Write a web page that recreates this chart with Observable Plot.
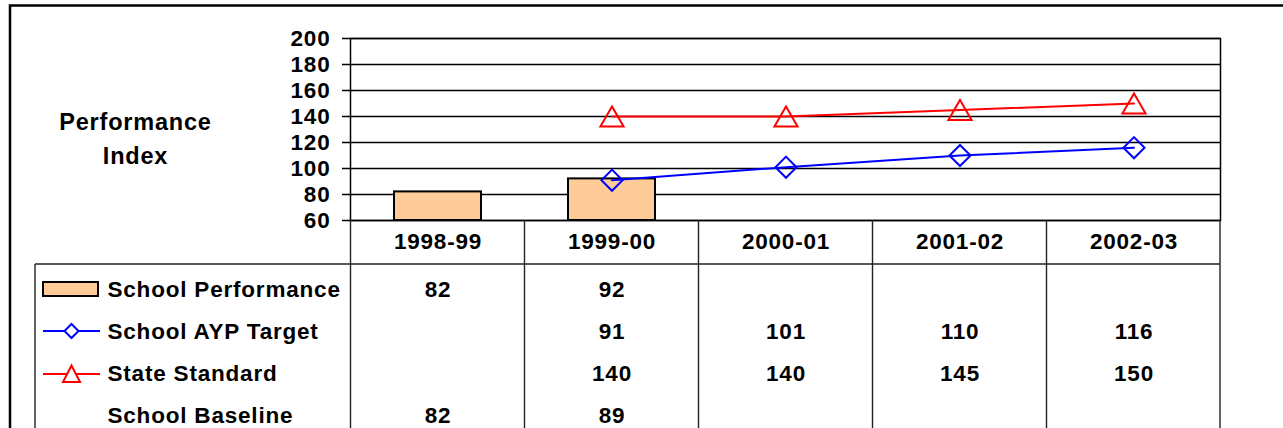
<!DOCTYPE html>
<html>
<head>
<meta charset="utf-8">
<script src="https://cdn.jsdelivr.net/npm/d3@7"></script>
<script src="https://cdn.jsdelivr.net/npm/@observablehq/plot@0.6"></script>
<style>
  html, body { margin: 0; padding: 0; background: #fff; }
  #chart svg { display: block; }
</style>
</head>
<body>
<div id="chart"></div>
<script>
// ---- data ----
const years = ["1998-99", "1999-00", "2000-01", "2001-02", "2002-03"];
const schoolPerformance = [82, 92, null, null, null];
const aypTarget = [null, 91, 101, 110, 116];
const stateStandard = [null, 140, 140, 145, 150];
const schoolBaseline = [82, 89, null, null, null];
const seriesNames = ["School Performance", "School AYP Target", "State Standard", "School Baseline"];
const yTicks = [60, 80, 100, 120, 140, 160, 180, 200];
const yTitle = "Performance\nIndex";

// ---- layout ----
const W = 1283, H = 428;
const M = {top: 38, right: 63, bottom: 208, left: 350};
const rowDy = [69, 111, 153, 195];   // table rows below the plot frame
const headerDy = 21;
const FONT = "'Liberation Sans', Arial, sans-serif";

const rows = (arr) => years.map((year, i) => ({year, value: arr[i]})).filter(d => d.value != null);
const perf = rows(schoolPerformance);
const ayp = rows(aypTarget);
const state = rows(stateStandard);
const base = rows(schoolBaseline);
const tableSeries = [perf, ayp, state, base];

const BAR = "#FFCC99", BLUE = "#0000FF", RED = "#FF0000";

function tableAndFrame(index, scales, values, dims) {
  const x = scales.x;
  const step = x.step ? x.step() : (x(years[1]) - x(years[0]));
  const bw = x.bandwidth ? x.bandwidth() : step / 2;
  const right = dims.width - dims.marginRight;
  const bottom = dims.height - dims.marginBottom;
  const headerBottom = bottom + 44;
  const tableLeft = 35;
  const g = d3.create("svg:g");
  const bounds = years.map(y => x(y) + bw / 2 - step / 2).concat([right]);
  g.selectAll("line.v").data(bounds).join("line")
    .attr("x1", d => d).attr("x2", d => d)
    .attr("y1", bottom).attr("y2", dims.height)
    .attr("stroke", "#222").attr("stroke-width", 1.4);
  g.append("line").attr("x1", tableLeft).attr("x2", right)
    .attr("y1", headerBottom).attr("y2", headerBottom)
    .attr("stroke", "#222").attr("stroke-width", 1.4);
  g.append("line").attr("x1", tableLeft).attr("x2", tableLeft)
    .attr("y1", headerBottom).attr("y2", dims.height)
    .attr("stroke", "#222").attr("stroke-width", 1.4);
  // outer chart-area border (top + left)
  g.append("path").attr("d", `M10,${dims.height}V5.5H${dims.width}`)
    .attr("fill", "none").attr("stroke", "#000").attr("stroke-width", 2.5);
  // legend keys
  const cx = 71.5;
  const r1 = bottom + rowDy[0], r2 = bottom + rowDy[1], r3 = bottom + rowDy[2];
  g.append("rect").attr("x", 43).attr("y", r1 - 7).attr("width", 55).attr("height", 14)
    .attr("fill", BAR).attr("stroke", "#000").attr("stroke-width", 2);
  g.append("line").attr("x1", 43).attr("x2", 100).attr("y1", r2).attr("y2", r2)
    .attr("stroke", BLUE).attr("stroke-width", 2);
  g.append("path").attr("d", `M${cx},${r2 - 7}L${cx + 7},${r2}L${cx},${r2 + 7}L${cx - 7},${r2}Z`)
    .attr("fill", "#fff").attr("stroke", BLUE).attr("stroke-width", 2);
  g.append("line").attr("x1", 43).attr("x2", 100).attr("y1", r3 + 1).attr("y2", r3 + 1)
    .attr("stroke", RED).attr("stroke-width", 2);
  g.append("path").attr("d", `M${cx},${r3 - 7.5}L${cx + 8.5},${r3 + 9}L${cx - 8.5},${r3 + 9}Z`)
    .attr("fill", "#fff").attr("stroke", RED).attr("stroke-width", 2);
  return g.node();
}

const marks = [
  // gridlines with ticks extending left
  Plot.ruleY(yTicks, {y: d => d, stroke: "#000", strokeWidth: 1.5, insetLeft: -8}),
  Plot.frame({stroke: "#000", strokeWidth: 1.5}),
  Plot.barY(perf, {x: "year", y1: yTicks[0], y2: "value", fill: BAR, stroke: "#000", strokeWidth: 2}),
  Plot.line(ayp, {x: "year", y: "value", stroke: BLUE, strokeWidth: 2}),
  Plot.dot(ayp, {x: "year", y: "value", symbol: "diamond2", r: 9.5, stroke: BLUE, strokeWidth: 2, fill: "none"}),
  Plot.line(state, {x: "year", y: "value", stroke: RED, strokeWidth: 2}),
  Plot.dot(state, {x: "year", y: "value", symbol: "triangle", r: 8.6, dy: 3.3, stroke: RED, strokeWidth: 2, fill: "none"}),
  // y tick labels
  Plot.text(yTicks, {y: d => d, text: d => String(d), frameAnchor: "left", dx: -20, textAnchor: "end", lineAnchor: "middle"}),
  // y title
  Plot.text([yTitle], {text: d => d, frameAnchor: "top-left", dx: -215, dy: 98, fontSize: 23.5, lineHeight: 1.45, textAnchor: "middle", lineAnchor: "middle"}),
  // category header
  Plot.text(years, {x: d => d, text: d => d, frameAnchor: "bottom", dy: headerDy, lineAnchor: "middle"}),
  tableAndFrame
];
// table rows
tableSeries.forEach((data, k) => {
  marks.push(Plot.text(data, {x: "year", text: d => String(d.value), frameAnchor: "bottom", dy: rowDy[k], lineAnchor: "middle"}));
  marks.push(Plot.text([seriesNames[k]], {text: d => d, frameAnchor: "bottom-left", dx: -243, dy: rowDy[k], textAnchor: "start", lineAnchor: "middle"}));
});

const chart = Plot.plot({
  width: W,
  height: H,
  marginTop: M.top,
  marginRight: M.right,
  marginBottom: M.bottom,
  marginLeft: M.left,
  x: {type: "band", domain: years, paddingInner: 0.5, paddingOuter: 0.25, axis: null},
  y: {domain: [yTicks[0], yTicks[yTicks.length - 1]], axis: null},
  style: {fontFamily: FONT, fontSize: "22.5px", fontWeight: "bold", letterSpacing: "0.8px", color: "#000", background: "#fff", overflow: "visible"},
  marks
});
document.getElementById("chart").append(chart);
</script>
</body>
</html>
